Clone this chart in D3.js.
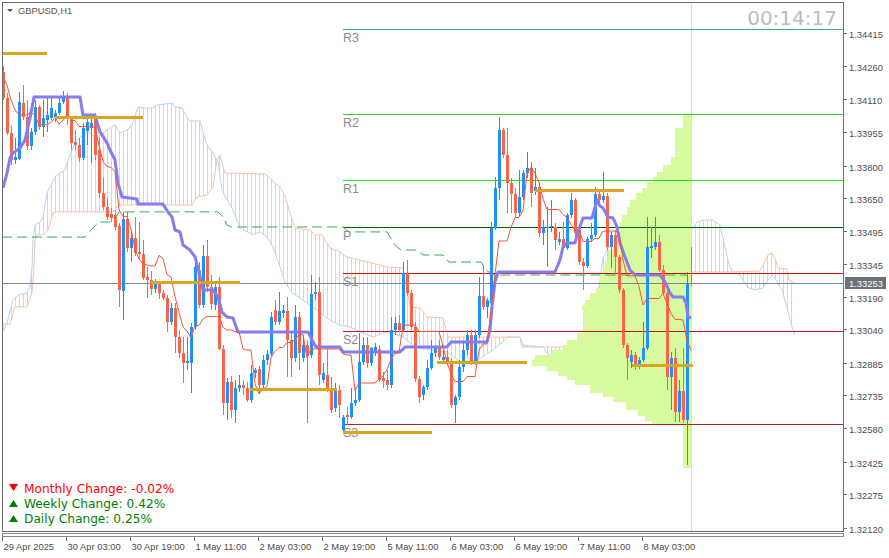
<!DOCTYPE html>
<html>
<head>
<meta charset="utf-8">
<script src="https://cdn.jsdelivr.net/npm/d3@7"></script>
<style>
  body { margin: 0; background: #fff; }
  svg { display: block; }
</style>
</head>
<body>
<svg id="chart" width="889" height="558"></svg>
<script>

// ---- data ----

var symbolLabel = "GBPUSD,H1";
var timerLabel = "00:14:17";

var tickBars = [0, 16, 32, 48, 64, 80, 96, 112, 128, 144, 160];
var tickLabels = ["29 Apr 2025", "30 Apr 03:00", "30 Apr 19:00", "1 May 11:00", "2 May 03:00",
  "2 May 19:00", "5 May 11:00", "6 May 03:00", "6 May 19:00", "7 May 11:00", "8 May 03:00"];

var priceTicks = ["1.34415", "1.34260", "1.34110", "1.33955", "1.33800", "1.33650", "1.33495", "1.33345",
  "1.33190", "1.33040", "1.32885", "1.32735", "1.32580", "1.32425", "1.32275", "1.32120"];

var lastPrice = 1.33253;

var open = [
  1.34234,1.34113,1.33951,1.33826,1.33830,1.34090,1.34025,1.33890,1.33956,1.34072,
  1.33979,1.34011,1.34020,1.34025,1.34044,1.34095,1.34118,1.34020,1.33909,1.33895,
  1.33835,1.33960,1.33974,1.34020,1.33872,1.33672,1.33608,1.33575,1.33570,1.33520,
  1.33218,1.33552,1.33417,1.33464,1.33399,1.33390,1.33283,1.33269,1.33227,1.33250,
  1.33208,1.33185,1.33074,1.33139,1.33004,1.32930,1.32884,1.32884,1.33051,1.33315,
  1.33153,1.33380,1.33236,1.33153,1.33236,1.32949,1.32698,1.32796,1.32666,1.32768,
  1.32782,1.32768,1.32712,1.32837,1.32856,1.32782,1.32898,1.32925,1.33130,1.33074,
  1.33116,1.33125,1.32990,1.32907,1.33097,1.32907,1.32967,1.32921,1.33204,1.33213,
  1.32805,1.32828,1.32763,1.32675,1.32758,1.32573,1.32642,1.32633,1.32698,1.32712,
  1.32888,1.32967,1.32884,1.32930,1.32949,1.32814,1.32805,1.32782,1.33037,1.33069,
  1.33037,1.33301,1.33208,1.33051,1.32809,1.32735,1.32772,1.32860,1.32930,1.32953,
  1.32898,1.32912,1.32884,1.32689,1.32726,1.32865,1.32944,1.33014,1.32888,1.33014,
  1.33195,1.33143,1.33162,1.33510,1.33696,1.33965,1.33849,1.33719,1.33668,1.33580,
  1.33654,1.33765,1.33788,1.33682,1.33700,1.33487,1.33510,1.33515,1.33515,1.33445,
  1.33459,1.33417,1.33570,1.33640,1.33501,1.33352,1.33334,1.33459,1.33478,1.33668,
  1.33640,1.33659,1.33422,1.33478,1.33375,1.33222,1.32967,1.32888,1.32921,1.32870,
  1.32898,1.32953,1.33417,1.33422,1.33445,1.33315,1.33208,1.32819,1.32907,1.32656,
  1.32754,1.32619,1.33255];

var high = [
  1.34261,1.34136,1.33988,1.33928,1.34141,1.34174,1.34104,1.33974,1.34104,1.34081,
  1.34104,1.34113,1.34113,1.34058,1.34113,1.34146,1.34136,1.34030,1.33965,1.33928,
  1.33997,1.34020,1.34020,1.34044,1.33928,1.33742,1.33649,1.33603,1.33594,1.33533,
  1.33585,1.33585,1.33492,1.33561,1.33538,1.33454,1.33329,1.33310,1.33273,1.33255,
  1.33222,1.33199,1.33162,1.33162,1.33037,1.33004,1.33004,1.33069,1.33371,1.33352,
  1.33431,1.33454,1.33292,1.33260,1.33283,1.32967,1.32814,1.32823,1.32805,1.32828,
  1.32805,1.32796,1.32874,1.32860,1.32870,1.32921,1.32944,1.33120,1.33176,1.33213,
  1.33153,1.33190,1.33023,1.33153,1.33120,1.33014,1.32990,1.33292,1.33260,1.33283,
  1.32884,1.32953,1.32819,1.32791,1.32782,1.32642,1.32679,1.32768,1.32768,1.33023,
  1.33004,1.33004,1.32958,1.32977,1.32967,1.32842,1.32851,1.33097,1.33097,1.33106,
  1.33352,1.33362,1.33222,1.33074,1.32823,1.32782,1.32898,1.32990,1.32967,1.32990,
  1.32944,1.32944,1.32907,1.32735,1.32898,1.32977,1.33037,1.33037,1.33037,1.33283,
  1.33338,1.33185,1.33538,1.33747,1.34025,1.33974,1.33974,1.33742,1.33696,1.33779,
  1.33779,1.33863,1.33816,1.33788,1.33724,1.33547,1.33608,1.33640,1.33533,1.33492,
  1.33538,1.33580,1.33672,1.33649,1.33524,1.33371,1.33468,1.33533,1.33700,1.33677,
  1.33770,1.33672,1.33492,1.33501,1.33385,1.33232,1.32977,1.32944,1.32935,1.32912,
  1.33074,1.33561,1.33515,1.33561,1.33478,1.33338,1.33222,1.32935,1.32953,1.32805,
  1.32953,1.33306,1.33422];

var low = [
  1.34104,1.33942,1.33802,1.33807,1.33826,1.34011,1.33872,1.33872,1.33942,1.33965,
  1.33933,1.33956,1.34011,1.34002,1.34034,1.34086,1.33988,1.33872,1.33872,1.33816,
  1.33826,1.33895,1.33812,1.33826,1.33649,1.33594,1.33547,1.33538,1.33501,1.33143,
  1.33083,1.33399,1.33352,1.33380,1.33371,1.33269,1.33185,1.33199,1.33208,1.33181,
  1.33176,1.33028,1.33060,1.32930,1.32907,1.32791,1.32851,1.32744,1.33037,1.33139,
  1.33139,1.33213,1.33130,1.33130,1.32944,1.32642,1.32619,1.32628,1.32605,1.32749,
  1.32735,1.32703,1.32698,1.32814,1.32744,1.32768,1.32874,1.32916,1.33060,1.33060,
  1.33092,1.32819,1.32819,1.32888,1.32851,1.32888,1.32605,1.32907,1.33176,1.32782,
  1.32791,1.32749,1.32652,1.32656,1.32628,1.32559,1.32596,1.32624,1.32684,1.32703,
  1.32874,1.32860,1.32870,1.32916,1.32796,1.32768,1.32758,1.32768,1.33014,1.33028,
  1.33028,1.33195,1.33037,1.32796,1.32698,1.32712,1.32758,1.32851,1.32912,1.32898,
  1.32884,1.32874,1.32675,1.32605,1.32712,1.32842,1.32921,1.32874,1.32874,1.33000,
  1.33130,1.33092,1.33153,1.33501,1.33640,1.33835,1.33580,1.33580,1.33556,1.33561,
  1.33640,1.33742,1.33608,1.33663,1.33468,1.33431,1.33329,1.33492,1.33408,1.33431,
  1.33408,1.33408,1.33556,1.33473,1.33338,1.33222,1.33324,1.33445,1.33468,1.33626,
  1.33626,1.33408,1.33324,1.33292,1.33208,1.32953,1.32805,1.32860,1.32851,1.32856,
  1.32888,1.32944,1.33371,1.33408,1.33306,1.33199,1.32758,1.32666,1.32610,1.32610,
  1.32605,1.32410,1.33241];

var close = [
  1.34113,1.33951,1.33826,1.33840,1.34095,1.34025,1.33890,1.33956,1.34072,1.33979,
  1.34020,1.34034,1.34067,1.34044,1.34090,1.34118,1.34020,1.33904,1.33895,1.33835,
  1.33974,1.34002,1.33997,1.33849,1.33672,1.33608,1.33561,1.33556,1.33515,1.33222,
  1.33552,1.33417,1.33464,1.33394,1.33390,1.33278,1.33269,1.33227,1.33250,1.33208,
  1.33185,1.33074,1.33139,1.33004,1.32930,1.32884,1.32893,1.33051,1.33329,1.33153,
  1.33380,1.33236,1.33157,1.33236,1.32949,1.32698,1.32796,1.32666,1.32768,1.32782,
  1.32768,1.32712,1.32837,1.32851,1.32782,1.32898,1.32925,1.33097,1.33074,1.33125,
  1.33130,1.32990,1.32907,1.33097,1.32930,1.32967,1.32916,1.33204,1.33213,1.32828,
  1.32837,1.32763,1.32666,1.32758,1.32689,1.32633,1.32633,1.32698,1.32712,1.32888,
  1.32967,1.32884,1.32953,1.32958,1.32805,1.32800,1.32782,1.33037,1.33069,1.33037,
  1.33301,1.33208,1.33051,1.32809,1.32726,1.32772,1.32860,1.32930,1.32953,1.32912,
  1.32912,1.32884,1.32689,1.32726,1.32865,1.32944,1.33014,1.32888,1.33014,1.33195,
  1.33143,1.33176,1.33510,1.33696,1.33965,1.33849,1.33719,1.33668,1.33580,1.33654,
  1.33765,1.33788,1.33672,1.33700,1.33487,1.33515,1.33515,1.33520,1.33454,1.33459,
  1.33417,1.33570,1.33640,1.33487,1.33352,1.33334,1.33459,1.33478,1.33668,1.33640,
  1.33659,1.33422,1.33478,1.33375,1.33222,1.32967,1.32907,1.32921,1.32870,1.32898,
  1.32953,1.33422,1.33426,1.33445,1.33315,1.33208,1.32819,1.32907,1.32656,1.32754,
  1.32619,1.33255,1.33253];

// tenkan-sen, one value per bar
var tenkan = [
  1.34211,1.34174,1.34104,1.34058,1.34035,1.34035,1.34035,1.34048,1.34032,1.33988,
  1.33988,1.33990,1.34000,1.34023,1.33993,1.34009,1.34039,1.34009,1.34009,1.33981,
  1.33981,1.33981,1.33979,1.33979,1.33893,1.33819,1.33796,1.33791,1.33772,1.33594,
  1.33564,1.33564,1.33506,1.33413,1.33366,1.33343,1.33339,1.33334,1.33334,1.33383,
  1.33369,1.33294,1.33283,1.33192,1.33118,1.33051,1.33032,1.33000,1.33058,1.33058,
  1.33088,1.33100,1.33100,1.33100,1.33100,1.33049,1.33037,1.33037,1.33030,1.33030,
  1.32949,1.32944,1.32944,1.32786,1.32740,1.32763,1.32775,1.32909,1.32937,1.32956,
  1.32956,1.32979,1.32979,1.32991,1.33016,1.33016,1.32909,1.32949,1.32949,1.32949,
  1.32949,1.32949,1.32949,1.32949,1.32949,1.32926,1.32921,1.32921,1.32756,1.32791,
  1.32791,1.32791,1.32791,1.32791,1.32810,1.32824,1.32854,1.32900,1.32928,1.32933,
  1.33056,1.33060,1.33060,1.33060,1.33030,1.33030,1.33030,1.33030,1.33030,1.33030,
  1.32960,1.32886,1.32833,1.32798,1.32798,1.32798,1.32821,1.32821,1.32821,1.32944,
  1.32972,1.32972,1.33125,1.33294,1.33450,1.33450,1.33450,1.33513,1.33559,1.33559,
  1.33589,1.33763,1.33791,1.33765,1.33721,1.33647,1.33596,1.33596,1.33596,1.33596,
  1.33573,1.33559,1.33526,1.33501,1.33501,1.33448,1.33448,1.33448,1.33462,1.33462,
  1.33496,1.33496,1.33496,1.33496,1.33489,1.33362,1.33288,1.33288,1.33288,1.33239,
  1.33153,1.33183,1.33183,1.33183,1.33183,1.33206,1.33160,1.33114,1.33086,1.33086,
  1.33083,1.32986,1.32944];

// kijun-sen, vertices (bar, price)
var kijunBar = [0,1,1.75,2.5,4.25,5.5,6.75,7.75,19.25,20,23,24.25,26,26.75,28,28.75,29.75,33.5,33.75,40,
  41.25,42.25,43,44.25,45,46.75,48,49,50,52.5,53.75,54.75,56,57.5,58.75,76.25,77.25,78.25,84.25,85,
  99.25,100.5,111,112,121,121.75,122.25,123,123.75,138,139.25,140,141,143,143.75,145,147.25,148.5,149.25,150,
  151.25,152.5,153.5,154.25,155.5,156.75,158,164.25,165.5,166.75,167.5,170,170.75,171.25,172];
var kijunVal = [1.33696,1.33765,1.33835,1.33858,1.33881,1.33918,1.34021,1.34118,1.34118,1.34034,1.34034,1.33956,1.33905,1.33872,1.33826,1.33719,1.33654,1.33645,1.33621,1.33621,
  1.33584,1.33561,1.33501,1.33492,1.33431,1.33408,1.33376,1.33306,1.33223,1.33223,1.33190,1.33120,1.33097,1.33093,1.33028,1.33028,1.32991,1.32958,1.32958,1.32935,
  1.32935,1.32958,1.32958,1.32981,1.32981,1.33037,1.33144,1.33260,1.33306,1.33306,1.33362,1.33422,1.33441,1.33441,1.33492,1.33557,1.33557,1.33640,1.33612,1.33603,
  1.33561,1.33557,1.33515,1.33441,1.33376,1.33315,1.33292,1.33292,1.33260,1.33209,1.33190,1.33190,1.33162,1.33097,1.33093];

// senkou span A (blue edge), vertices, runs 26 bars past the last bar
var spanABar = [0,1,2.5,3.75,6,6.75,7.25,7.5,8,9.25,10,11,11.75,13,14.25,15.5,16.25,17.25,18.5,20,
  21.25,23.5,25,26.75,28,29.25,31,32.25,33.75,35,37.5,38.5,42.25,43,44.75,46,46.75,49.25,50,51,
  52.5,53.75,54.75,56,57.25,59.25,62.5,64.25,66,67.5,69.25,70.5,72.25,74.25,76.75,79.25,81.75,84.25,86.75,90,
  92.5,95,97.5,100,103,106.75,111,114.25,118.5,122.5,126.25,129.25,130,135,136,138.5,141,144.25,146.75,147.5,
  148.5,149.25,150,151.25,153.5,155,156.25,157.5,159.75,161,162.25,163.5,166,168.5,169.75,171.75,173.5,175,177.5,179.25,
  180.5,181.75,184.25,186,188,190,191.25,192.5,194.75,196,197.25,198];
var spanAVal = [1.33028,1.33069,1.33176,1.33199,1.33209,1.33236,1.33329,1.33455,1.33524,1.33538,1.33561,1.33673,1.33700,1.33747,1.33765,1.33779,1.33826,1.33872,1.33918,1.33942,
  1.33956,1.33928,1.33951,1.33974,1.33988,1.33951,1.33965,1.33988,1.34072,1.34067,1.34067,1.34081,1.34090,1.34072,1.34067,1.34025,1.34007,1.34007,1.33951,1.33895,
  1.33858,1.33816,1.33687,1.33640,1.33603,1.33510,1.33478,1.33492,1.33468,1.33422,1.33329,1.33260,1.33209,1.33185,1.33153,1.33116,1.33083,1.33060,1.33051,1.33023,
  1.33004,1.33023,1.33023,1.33004,1.32958,1.32944,1.32935,1.32888,1.32898,1.32944,1.33004,1.33004,1.32967,1.32958,1.32930,1.32898,1.32893,1.32953,1.32967,1.33037,
  1.33176,1.33269,1.33371,1.33417,1.33441,1.33468,1.33510,1.33538,1.33533,1.33515,1.33478,1.33492,1.33501,1.33492,1.33473,1.33492,1.33538,1.33547,1.33547,1.33524,
  1.33422,1.33325,1.33292,1.33236,1.33223,1.33232,1.33269,1.33292,1.33223,1.33139,1.33051,1.33014];

// senkou span B (peach edge), vertices
var spanBBar = [0,1.75,3,6,7.25,7.75,8,8.5,10,11.25,12.5,13.5,27.5,28.5,29.25,47.25,48.5,51,52.5,53.5,
  54.25,54.75,55.5,65.5,67.25,69.25,70.5,71.75,73,76.75,78,79.75,81,81.75,84.25,86,94.25,96,100,101,
  101.75,104.25,106,110,111.25,129.25,129.75,148.5,149.25,150,150.5,181.75,189.25,190,191.25,192.25,193,193.75,196,196.5,
  198];
var spanBVal = [1.33065,1.33065,1.33144,1.33144,1.33209,1.33339,1.33455,1.33478,1.33478,1.33501,1.33580,1.33585,1.33585,1.33608,1.33617,1.33617,1.33654,1.33663,1.33700,1.33826,
  1.33849,1.33812,1.33765,1.33761,1.33733,1.33700,1.33659,1.33580,1.33510,1.33501,1.33478,1.33478,1.33441,1.33417,1.33399,1.33376,1.33338,1.33329,1.33325,1.33223,
  1.33144,1.33139,1.33097,1.33093,1.33004,1.33004,1.32958,1.32958,1.33014,1.33260,1.33306,1.33306,1.33311,1.33338,1.33385,1.33394,1.33371,1.33325,1.33320,1.33269,
  1.33255];

// green dashed stepped line
var greenBar = [-0.25,20.5,22,24,27.5,29,53.75,55,56,57,85,86.5,96,98,99.5,103.5,105,110,111.5,119.5,121,123,171];
var greenVal = [1.33468,1.33468,1.33501,1.33538,1.33538,1.33585,1.33585,1.33561,1.33524,1.33515,1.33515,1.33492,1.33492,1.33431,1.33408,1.33408,1.33385,1.33385,1.33352,1.33352,1.33311,1.33292,1.33292];

// daily gold levels
var goldFrom = [-0.25, 13, 37, 61.75, 85, 108.5, 133, 157.25];
var goldTo = [11, 35, 59.25, 83.5, 107.25, 131, 155.25, 172.5];
var goldLevel = [1.34322, 1.34025, 1.33260, 1.32763, 1.32564, 1.32888, 1.33686, 1.32874];

// pivot levels of the day
var pivotNames = ["R3", "R2", "R1", "P", "S1", "S2", "S3"];
var pivotLevels = [1.34432, 1.34038, 1.33731, 1.33515, 1.33300, 1.33034, 1.32601];
var pivotColors = ["#3cb371", "#2fd62f", "#19e619", "#006400", "#dd0a0a", "#cc1030", "#b22222"];
var pivotStartBar = 85;

// volume profile: row edges (price) and row volume
var profEdges = [1.34039,1.33974,1.33840,1.33802,1.33770,1.33747,1.33724,1.33696,1.33673,1.33640,
  1.33608,1.33570,1.33538,1.33510,1.33455,1.33408,1.33362,1.33329,1.33301,1.33232,
  1.33209,1.33176,1.33153,1.33130,1.33023,1.32991,1.32967,1.32944,1.32921,1.32898,
  1.32874,1.32851,1.32828,1.32805,1.32782,1.32749,1.32726,1.32703,1.32666,1.32642,
  1.32619,1.32605,1.32401];
var profVol = [8,16,20,28,34,38,44,49,55,61,64,69,71,74,78,83,86,88,91,95,
  101,106,109,108,114,124,128,139,156,159,144,133,124,116,101,88,78,65,53,46,39,8];

var changeLabels = ["Monthly Change: -0.02%", "Weekly Change: 0.42%", "Daily Change: 0.25%"];
var changeUp = [false, true, true];

// ---- layout ----

var svg = d3.select("#chart"),
    plotL = 2, plotT = 2, plotR = 843, plotB = 531;

var x = d3.scaleLinear().domain([0, 172]).range([3, 691]);
var y = d3.scaleLinear().domain([1.32120, 1.34415]).range([527.6, 33]);
var vx = d3.scaleLinear().domain([0, 160]).range([x(172), x(172) - 160]);

var colorUp = "#1e90ff", colorDown = "#ff6347";
var colorA = "#b9d3ef", colorB = "#f3c3ab";

var defs = svg.append("defs");
defs.append("clipPath").attr("id", "plot")
  .append("rect").attr("x", plotL + 1).attr("y", plotT + 1)
  .attr("width", plotR - plotL - 1).attr("height", plotB - plotT - 1);

function hatch(id, color) {
  defs.append("pattern").attr("id", id)
      .attr("patternUnits", "userSpaceOnUse")
      .attr("x", 3).attr("y", 0).attr("width", 4).attr("height", 8)
    .append("rect").attr("width", 1).attr("height", 8).attr("fill", color);
}
hatch("hatchA", "#c3daf3");
hatch("hatchB", "#f5cdbb");

function pts(bars, vals) {
  return bars.map(function(b, i) { return [b, vals[i]]; });
}
var spanA = pts(spanABar, spanAVal),
    spanB = pts(spanBBar, spanBVal);

// region above each span line (towards higher prices) used as clip
defs.append("clipPath").attr("id", "aboveB").append("path")
  .attr("d", d3.area().x(function(d) { return x(d[0]); }).y0(plotT).y1(function(d) { return y(d[1]); })(spanB));
defs.append("clipPath").attr("id", "aboveA").append("path")
  .attr("d", d3.area().x(function(d) { return x(d[0]); }).y0(plotT).y1(function(d) { return y(d[1]); })(spanA));

var g = svg.append("g").attr("clip-path", "url(#plot)");

// cloud
var below = d3.area().x(function(d) { return x(d[0]); }).y0(plotB).y1(function(d) { return y(d[1]); });
g.append("g").attr("clip-path", "url(#aboveB)")
  .append("path").attr("d", below(spanA)).attr("fill", "url(#hatchA)");
g.append("g").attr("clip-path", "url(#aboveA)")
  .append("path").attr("d", below(spanB)).attr("fill", "url(#hatchB)");

var pline = d3.line().x(function(d) { return x(d[0]); }).y(function(d) { return y(d[1]); });
g.append("path").attr("d", pline(spanA)).attr("fill", "none").attr("stroke", colorA).attr("stroke-width", 1);
g.append("path").attr("d", pline(spanB)).attr("fill", "none").attr("stroke", colorB).attr("stroke-width", 1);

// volume profile
g.selectAll(".prof")
  .data(profVol)
  .enter().append("rect")
    .attr("class", "prof")
    .attr("x", function(d) { return vx(d); })
    .attr("y", function(d, i) { return y(profEdges[i]); })
    .attr("width", function(d) { return vx(0) - vx(d) + 1; })
    .attr("height", function(d, i) { return y(profEdges[i + 1]) - y(profEdges[i]) + 0.5; })
    .attr("fill", "#d8fa9e")
    .attr("shape-rendering", "crispEdges");

g.append("line")
  .attr("x1", x(172) + 0.5).attr("x2", x(172) + 0.5)
  .attr("y1", plotT).attr("y2", plotB)
  .attr("stroke", "#cdf19c").attr("stroke-width", 1);

// bid line
var bidY = Math.round(y(lastPrice)) + 0.5;
g.append("line")
  .attr("x1", plotL).attr("x2", plotR).attr("y1", bidY).attr("y2", bidY)
  .attr("stroke", "#778899").attr("stroke-width", 1);

// pivots
pivotLevels.forEach(function(p, i) {
  var py = Math.round(y(p)) + 0.5;
  g.append("line")
    .attr("x1", x(pivotStartBar)).attr("x2", plotR)
    .attr("y1", py).attr("y2", py)
    .attr("stroke", pivotColors[i]).attr("stroke-width", 1);
  g.append("text")
    .attr("x", x(pivotStartBar))
    .attr("y", py + 12.5)
    .attr("font-family", "Liberation Sans, Arial, sans-serif")
    .attr("font-size", "12.5px")
    .attr("fill", "#8c8c8c")
    .text(pivotNames[i]);
});

// green dashed line
g.append("path")
  .attr("d", pline(pts(greenBar, greenVal)))
  .attr("fill", "none")
  .attr("stroke", "#38a85c")
  .attr("stroke-width", 1)
  .attr("stroke-dasharray", "10,5");

// candles
var bars = g.append("g").attr("shape-rendering", "crispEdges");
d3.range(open.length).forEach(function(i) {
  var cx = Math.round(x(i)),
      up = close[i] >= open[i],
      col = up ? colorUp : colorDown,
      yh = Math.round(y(high[i])), yl = Math.round(y(low[i])),
      yo = Math.round(y(open[i])), yc = Math.round(y(close[i]));
  bars.append("rect")
    .attr("x", cx).attr("y", yh).attr("width", 1).attr("height", Math.max(1, yl - yh))
    .attr("fill", col);
  bars.append("rect")
    .attr("x", cx - 1).attr("y", Math.min(yo, yc))
    .attr("width", 3).attr("height", Math.max(1, Math.abs(yo - yc)))
    .attr("fill", col);
});

// kijun and tenkan
g.append("path")
  .attr("d", pline(pts(kijunBar, kijunVal)))
  .attr("fill", "none").attr("stroke", "#857cf2").attr("stroke-width", 3)
  .attr("stroke-linejoin", "round");

g.append("path")
  .attr("d", d3.line().x(function(d, i) { return x(i); }).y(function(d) { return y(d); })(tenkan))
  .attr("fill", "none").attr("stroke", "#f4553b").attr("stroke-width", 1);

// daily gold segments
g.selectAll(".gold")
  .data(goldLevel)
  .enter().append("line")
    .attr("class", "gold")
    .attr("x1", function(d, i) { return x(goldFrom[i]); })
    .attr("x2", function(d, i) { return x(goldTo[i]); })
    .attr("y1", function(d) { return Math.round(y(d)) + 0.5; })
    .attr("y2", function(d) { return Math.round(y(d)) + 0.5; })
    .attr("stroke", "#daa520")
    .attr("stroke-width", 3);

// ---- frame and axes ----

svg.append("rect")
  .attr("x", plotL + 0.5).attr("y", plotT + 0.5)
  .attr("width", plotR - plotL).attr("height", plotB - plotT)
  .attr("fill", "none").attr("stroke", "#6e6e6e");
svg.append("rect")
  .attr("x", plotL + 0.5).attr("y", plotB + 2.5)
  .attr("width", plotR - plotL).attr("height", 3)
  .attr("fill", "none").attr("stroke", "#8a8a8a");

var axisFont = "Liberation Sans, Arial, sans-serif";

var yAxis = svg.append("g");
priceTicks.forEach(function(t) {
  var ty = Math.round(y(+t)) + 0.5;
  yAxis.append("line")
    .attr("x1", plotR).attr("x2", plotR + 4).attr("y1", ty).attr("y2", ty)
    .attr("stroke", "#6e6e6e");
  yAxis.append("text")
    .attr("x", plotR + 6).attr("y", ty + 4.5)
    .attr("font-family", axisFont).attr("font-size", "9.4px")
    .attr("fill", "#4d4d4d")
    .text(t);
});

// last price tag
var tagY = Math.round(y(lastPrice));
svg.append("rect")
  .attr("x", plotR + 2).attr("y", tagY - 6).attr("width", 41).attr("height", 12)
  .attr("fill", "#6c7179");
svg.append("text")
  .attr("x", plotR + 6).attr("y", tagY + 3.5)
  .attr("font-family", axisFont).attr("font-size", "9.4px")
  .attr("fill", "#fff")
  .text(lastPrice.toFixed(5));

var xAxis = svg.append("g");
tickBars.forEach(function(b, i) {
  var tx = Math.round(x(b)) - 0.5;
  xAxis.append("line")
    .attr("x1", tx).attr("x2", tx).attr("y1", plotB + 6).attr("y2", plotB + 10)
    .attr("stroke", "#6e6e6e");
  xAxis.append("text")
    .attr("x", tx + 1).attr("y", 550)
    .attr("font-family", axisFont).attr("font-size", "9.4px")
    .attr("fill", "#4d4d4d")
    .text(tickLabels[i]);
});

// title and timer
svg.append("path").attr("d", "M7,9 L13,9 L10,12 Z").attr("fill", "#555");
svg.append("text")
  .attr("x", 18).attr("y", 14)
  .attr("font-family", axisFont).attr("font-size", "9.4px")
  .attr("fill", "#555")
  .text(symbolLabel);

svg.append("text")
  .attr("x", 837).attr("y", 25)
  .attr("text-anchor", "end")
  .attr("font-family", "DejaVu Sans, sans-serif").attr("font-size", "20px")
  .attr("fill", "#bdbdbd")
  .text(timerLabel);

// change readouts
changeLabels.forEach(function(s, i) {
  var base = 493 + i * 15,
      col = changeUp[i] ? "#008000" : "#ff0000";
  svg.append("path")
    .attr("d", changeUp[i]
      ? "M9," + (base - 1) + " L18," + (base - 1) + " L13.5," + (base - 8) + " Z"
      : "M9," + (base - 9) + " L18," + (base - 9) + " L13.5," + (base - 2) + " Z")
    .attr("fill", col);
  svg.append("text")
    .attr("x", 24).attr("y", base)
    .attr("font-family", "DejaVu Sans, sans-serif").attr("font-size", "12.2px")
    .attr("fill", col)
    .text(s);
});

</script>
</body>
</html>
